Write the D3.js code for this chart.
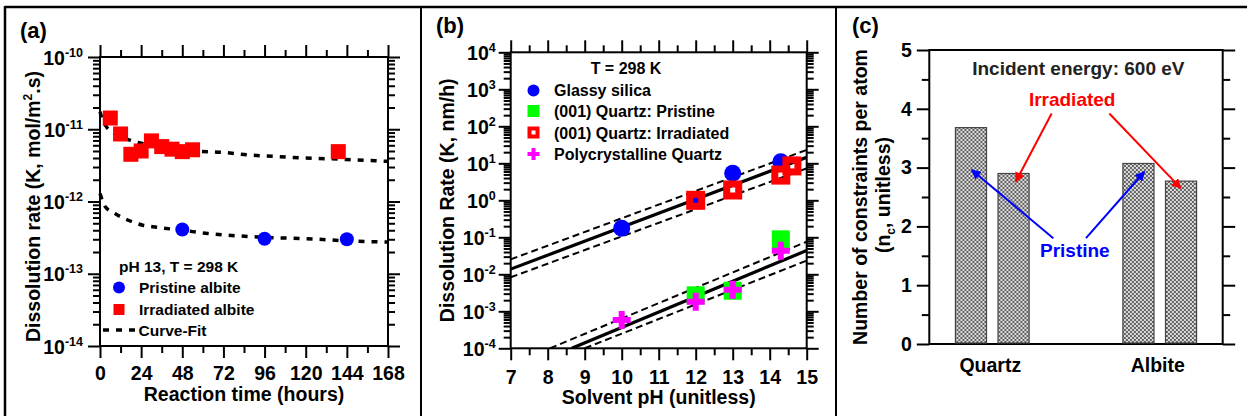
<!DOCTYPE html>
<html><head><meta charset="utf-8">
<script src="https://cdn.jsdelivr.net/npm/d3@7"></script>
<style>
body{margin:0;background:#fff}
svg{display:block}
text{font-family:"Liberation Sans",Arial,sans-serif;font-weight:bold;fill:#000}
</style>
</head><body>
<svg id="fig" width="1247" height="416"></svg>
<script>
// ---------------- DATA ----------------
// Panel (a)
const aIrrTime = [6, 12, 18, 24, 30, 36, 42, 48, 54, 139];
const aIrrRate = [1.43e-11, 8.6e-12, 4.5e-12, 5.0e-12, 6.9e-12, 5.75e-12, 5.3e-12, 4.9e-12, 5.2e-12, 4.9e-12];
const aPriTime = [48, 96, 144];
const aPriRate = [4.1e-13, 3.05e-13, 3.0e-13];
const aFitIrrTime = [0, 1.5, 3, 10, 16.5, 24, 40, 55, 71.5, 87, 103, 118.5, 134, 150, 168];
const aFitIrrRate = [1.75e-11, 1.35e-11, 1.15e-11, 8.3e-12, 7.2e-12, 6.4e-12, 5.6e-12, 5.0e-12, 4.8e-12, 4.4e-12, 4.2e-12, 4.0e-12, 3.9e-12, 3.75e-12, 3.6e-12];
const aFitPriTime = [0, 3, 8.75, 16.5, 25, 33, 48, 63, 80, 95, 111, 127, 144, 168];
const aFitPriRate = [1.29e-12, 8.5e-13, 6.8e-13, 5.5e-13, 4.7e-13, 4.4e-13, 4.0e-13, 3.6e-13, 3.35e-13, 3.2e-13, 3.1e-13, 3.0e-13, 2.85e-13, 2.75e-13];
const aXTicks = [0, 24, 48, 72, 96, 120, 144, 168];
const aYDecades = [-14, -13, -12, -11, -10];

// Panel (b)
const bGlassyPH = [10, 12, 13, 14.3];
const bGlassyK = [0.175, 1.0, 5.4, 11];
const bQPrisPH = [12, 13, 14.3];
const bQPrisK = [0.0027, 0.0036, 0.088];
const bQIrrPH = [12, 13, 14.3, 14.6];
const bQIrrK = [1.0, 1.9, 4.8, 8.5];
const bPolyPH = [10, 12, 13, 14.3];
const bPolyK = [5.8e-4, 0.0018, 0.0038, 0.043];
// fit lines: [startPH, startK, endPH, endK]
const bFitUpperSolid = [7, 0.0138, 15, 14.5];
const bFitUpperHi = [7, 0.0254, 15, 23];
const bFitUpperLo = [7, 0.0083, 15, 7.3];
const bFitLowerSolid = [8.65, 1e-4, 15, 0.044];
const bFitLowerHi = [8.06, 1e-4, 15, 0.076];
const bFitLowerLo = [9.0, 1e-4, 15, 0.0235];
const bXTicks = [7, 8, 9, 10, 11, 12, 13, 14, 15];
const bYDecades = [-4, -3, -2, -1, 0, 1, 2, 3, 4];

// Panel (c)
const cMaterials = ["Quartz", "Albite"];
const cStates = ["Pristine", "Irradiated"];
const cQuartz = [3.68, 2.90];
const cAlbite = [3.07, 2.77];
const cYTicks = [0, 1, 2, 3, 4, 5];

// ---------------- HELPERS ----------------
const svg = d3.select("#fig");
const defs = svg.append("defs");

function styleAxis(sel) {
  sel.select(".domain").remove();
  sel.selectAll(".tick line").attr("stroke", "#000").attr("stroke-width", 2);
}
function blankAxis(g, axisFn, scale, values, size) {
  g.call(axisFn(scale).tickValues(values).tickSize(size).tickFormat(() => ""));
  styleAxis(g);
}
function minorLog(d0, d1) {
  const out = [];
  for (let e = d0; e < d1; e++) for (let m = 2; m <= 9; m++) out.push(m * Math.pow(10, e));
  return out;
}
function powLabels(g, decades, size, sup) {
  g.selectAll(".tick text").each(function(d, i) {
    const t = d3.select(this);
    t.text(null).attr("font-size", size);
    t.append("tspan").text("10");
    t.append("tspan").attr("font-size", sup).attr("dy", -8).text(String(decades[i]));
  });
}

// ---------------- OUTER FRAME ----------------
const frame = svg.append("g").attr("stroke", "#000");
frame.append("line").attr("x1", 5).attr("x2", 1247).attr("y1", 7).attr("y2", 7).attr("stroke-width", 2.5);
frame.append("line").attr("x1", 5).attr("x2", 5).attr("y1", 6).attr("y2", 416).attr("stroke-width", 2.5);
frame.append("line").attr("x1", 421).attr("x2", 421).attr("y1", 7).attr("y2", 416).attr("stroke-width", 2);
frame.append("line").attr("x1", 836).attr("x2", 836).attr("y1", 7).attr("y2", 416).attr("stroke-width", 2);

// ---------------- PANEL (a) ----------------
(function() {
  const L = 100, R = 388, T = 57, B = 346;
  const x = d3.scaleLinear().domain([0, 168]).range([L, R]);
  const y = d3.scaleLog().domain([1e-14, 1e-10]).range([B, T]);
  const g = svg.append("g");
  const minorX = aXTicks.slice(0, -1).map(v => v + 12);
  const majY = aYDecades.map(e => Math.pow(10, e));
  const minY = minorLog(-14, -10);

  const gb = g.append("g").attr("transform", `translate(0,${B})`);
  gb.call(d3.axisBottom(x).tickValues(aXTicks).tickSize(12).tickPadding(8).tickFormat(d3.format("d")));
  styleAxis(gb); gb.selectAll(".tick text").attr("font-size", 19.5).attr("font-family", null);
  blankAxis(g.append("g").attr("transform", `translate(0,${B})`), d3.axisBottom, x, minorX, 7);
  blankAxis(g.append("g").attr("transform", `translate(0,${T})`), d3.axisTop, x, aXTicks, 12);
  blankAxis(g.append("g").attr("transform", `translate(0,${T})`), d3.axisTop, x, minorX, 7);
  const gl = g.append("g").attr("transform", `translate(${L},0)`);
  gl.call(d3.axisLeft(y).tickValues(majY).tickSize(12).tickPadding(5));
  styleAxis(gl); gl.selectAll(".tick text").attr("font-family", null).attr("dy", "0.36em");
  powLabels(gl, aYDecades, 19.5, 12.5);
  blankAxis(g.append("g").attr("transform", `translate(${L},0)`), d3.axisLeft, y, minY, 7);
  blankAxis(g.append("g").attr("transform", `translate(${R},0)`), d3.axisRight, y, majY, 12);
  blankAxis(g.append("g").attr("transform", `translate(${R},0)`), d3.axisRight, y, minY, 7);
  g.append("rect").attr("x", L).attr("y", T).attr("width", R - L).attr("height", B - T)
    .attr("fill", "none").attr("stroke", "#000").attr("stroke-width", 2);

  const line = d3.line().x(d => x(d[0])).y(d => y(d[1])).curve(d3.curveMonotoneX);
  const fitStyle = p => p.attr("fill", "none").attr("stroke", "#000").attr("stroke-width", 3.5).attr("stroke-dasharray", "6,7");
  g.append("path").attr("d", line(d3.zip(aFitIrrTime, aFitIrrRate))).call(fitStyle);
  g.append("path").attr("d", line(d3.zip(aFitPriTime, aFitPriRate))).call(fitStyle);

  g.selectAll(".irr").data(d3.zip(aIrrTime, aIrrRate)).join("rect")
    .attr("x", d => x(d[0]) - 7.5).attr("y", d => y(d[1]) - 7.5).attr("width", 15).attr("height", 15).attr("fill", "#f00");
  g.selectAll(".pri").data(d3.zip(aPriTime, aPriRate)).join("circle")
    .attr("cx", d => x(d[0])).attr("cy", d => y(d[1])).attr("r", 7).attr("fill", "#00f");

  const lg = g.append("g");
  lg.append("text").attr("x", 119).attr("y", 272).attr("font-size", 15.5).text("pH 13, T = 298 K");
  lg.append("circle").attr("cx", 119).attr("cy", 287.5).attr("r", 6).attr("fill", "#00f");
  lg.append("text").attr("x", 139).attr("y", 293).attr("font-size", 15.5).text("Pristine albite");
  lg.append("rect").attr("x", 113.5).attr("y", 304).attr("width", 11).attr("height", 11).attr("fill", "#f00");
  lg.append("text").attr("x", 139).attr("y", 314.5).attr("font-size", 15.5).text("Irradiated albite");
  lg.append("line").attr("x1", 103).attr("x2", 135).attr("y1", 330).attr("y2", 330).call(fitStyle);
  lg.append("text").attr("x", 138.5).attr("y", 335.5).attr("font-size", 15.5).text("Curve-Fit");

  g.append("text").attr("x", (L + R) / 2).attr("y", 401).attr("text-anchor", "middle").attr("font-size", 19.5).text("Reaction time (hours)");
  const yt = g.append("text").attr("transform", `translate(40,${(T + B) / 2 + 5}) rotate(-90)`).attr("text-anchor", "middle").attr("font-size", 19.5);
  yt.append("tspan").text("Dissolution rate (K, mol/m");
  yt.append("tspan").attr("font-size", 12).attr("dy", -8).text("2");
  yt.append("tspan").attr("dy", 8).text(".s)");
  g.append("text").attr("x", 20).attr("y", 38).attr("font-size", 22).text("(a)");
})();

// ---------------- PANEL (b) ----------------
(function() {
  const L = 510.7, R = 806.7, T = 52.3, B = 348.3;
  const x = d3.scaleLinear().domain([7, 15]).range([L, R]);
  const y = d3.scaleLog().domain([1e-4, 1e4]).range([B, T]);
  const g = svg.append("g");
  const minorX = bXTicks.slice(0, -1).map(v => v + 0.5);
  const majY = bYDecades.map(e => Math.pow(10, e));
  const minY = minorLog(-4, 4);

  const gb = g.append("g").attr("transform", `translate(0,${B})`);
  gb.call(d3.axisBottom(x).tickValues(bXTicks).tickSize(12).tickPadding(10).tickFormat(d3.format("d")));
  styleAxis(gb); gb.selectAll(".tick text").attr("font-size", 19.5).attr("font-family", null);
  blankAxis(g.append("g").attr("transform", `translate(0,${B})`), d3.axisBottom, x, minorX, 7);
  blankAxis(g.append("g").attr("transform", `translate(0,${T})`), d3.axisTop, x, bXTicks, 12);
  blankAxis(g.append("g").attr("transform", `translate(0,${T})`), d3.axisTop, x, minorX, 7);
  const gl = g.append("g").attr("transform", `translate(${L},0)`);
  gl.call(d3.axisLeft(y).tickValues(majY).tickSize(12).tickPadding(3));
  styleAxis(gl); gl.selectAll(".tick text").attr("font-family", null).attr("dy", "0.36em");
  powLabels(gl, bYDecades, 19.5, 12.5);
  blankAxis(g.append("g").attr("transform", `translate(${L},0)`), d3.axisLeft, y, minY, 7);
  blankAxis(g.append("g").attr("transform", `translate(${R},0)`), d3.axisRight, y, majY, 12);
  blankAxis(g.append("g").attr("transform", `translate(${R},0)`), d3.axisRight, y, minY, 7);
  g.append("rect").attr("x", L).attr("y", T).attr("width", R - L).attr("height", B - T)
    .attr("fill", "none").attr("stroke", "#000").attr("stroke-width", 2);

  defs.append("clipPath").attr("id", "clipb").append("rect").attr("x", L).attr("y", T).attr("width", R - L).attr("height", B - T);
  const fits = g.append("g").attr("clip-path", "url(#clipb)");
  const seg = (f, dashed) => fits.append("line")
    .attr("x1", x(f[0])).attr("y1", y(f[1])).attr("x2", x(f[2])).attr("y2", y(f[3]))
    .attr("stroke", "#000").attr("stroke-width", dashed ? 2 : 3.2).attr("stroke-dasharray", dashed ? "7,4" : null);
  seg(bFitUpperSolid, false); seg(bFitUpperHi, true); seg(bFitUpperLo, true);
  seg(bFitLowerSolid, false); seg(bFitLowerHi, true); seg(bFitLowerLo, true);

  g.selectAll(".gl").data(d3.zip(bGlassyPH, bGlassyK)).join("circle")
    .attr("cx", d => x(d[0])).attr("cy", d => y(d[1])).attr("r", 8.5).attr("fill", "#00f");
  g.selectAll(".qp").data(d3.zip(bQPrisPH, bQPrisK)).join("rect")
    .attr("x", d => x(d[0]) - 9).attr("y", d => y(d[1]) - 9).attr("width", 18).attr("height", 18).attr("fill", "#0f0");
  g.selectAll(".qi").data(d3.zip(bQIrrPH, bQIrrK)).join("rect")
    .attr("x", d => x(d[0]) - 6).attr("y", d => y(d[1]) - 6).attr("width", 12).attr("height", 12)
    .attr("fill", "none").attr("stroke", "#f00").attr("stroke-width", 7);
  const cross = d3.symbol().type(d3.symbolCross).size(180);
  g.selectAll(".pq").data(d3.zip(bPolyPH, bPolyK)).join("path")
    .attr("transform", d => `translate(${x(d[0])},${y(d[1])})`).attr("d", cross).attr("fill", "#f0f");

  const fs = 16;
  g.append("text").attr("x", 626).attr("y", 74).attr("text-anchor", "middle").attr("font-size", fs).text("T = 298 K");
  g.append("circle").attr("cx", 533.5).attr("cy", 90.5).attr("r", 6).attr("fill", "#00f");
  g.append("text").attr("x", 554).attr("y", 96).attr("font-size", fs).text("Glassy silica");
  g.append("rect").attr("x", 527.5).attr("y", 105).attr("width", 12).attr("height", 12).attr("fill", "#0f0");
  g.append("text").attr("x", 554).attr("y", 117).attr("font-size", fs).text("(001) Quartz: Pristine");
  g.append("rect").attr("x", 529.5).attr("y", 128.5).attr("width", 8).attr("height", 8).attr("fill", "none").attr("stroke", "#f00").attr("stroke-width", 4);
  g.append("text").attr("x", 554).attr("y", 138.5).attr("font-size", fs).text("(001) Quartz: Irradiated");
  g.append("path").attr("transform", "translate(533.5,154)").attr("d", d3.symbol().type(d3.symbolCross).size(80)).attr("fill", "#f0f");
  g.append("text").attr("x", 554).attr("y", 160).attr("font-size", fs).text("Polycrystalline Quartz");

  g.append("text").attr("x", (L + R) / 2).attr("y", 404).attr("text-anchor", "middle").attr("font-size", 19.5).text("Solvent pH (unitless)");
  g.append("text").attr("transform", `translate(454,${(T + B) / 2}) rotate(-90)`).attr("text-anchor", "middle").attr("font-size", 19.5).text("Dissolution Rate (K, nm/h)");
  g.append("text").attr("x", 436).attr("y", 33).attr("font-size", 22).text("(b)");
})();

// ---------------- PANEL (c) ----------------
(function() {
  const L = 929.3, R = 1222.7, T = 50, B = 344;
  const x0 = d3.scaleBand().domain(cMaterials).range([L, R]).paddingInner(0.56).paddingOuter(0.156);
  const x1 = d3.scaleBand().domain(cStates).range([0, x0.bandwidth()]).paddingInner(0.27);
  const y = d3.scaleLinear().domain([0, 5]).range([B, T]);
  const pos = d3.scaleLinear().domain([0, 1]).range([L, R]);
  const g = svg.append("g");

  const pat = defs.append("pattern").attr("id", "hatch").attr("patternUnits", "userSpaceOnUse").attr("width", 4).attr("height", 4);
  pat.append("rect").attr("width", 4).attr("height", 4).attr("fill", "#dcdcdc");
  pat.append("path").attr("d", "M0,0L4,4M4,0L0,4").attr("stroke", "#555").attr("stroke-width", 0.9);

  const minorY = [0.5, 1.5, 2.5, 3.5, 4.5];
  const gl = g.append("g").attr("transform", `translate(${L},0)`);
  gl.call(d3.axisLeft(y).tickValues(cYTicks).tickSize(12.5).tickPadding(5).tickFormat(d3.format("d")));
  styleAxis(gl); gl.selectAll(".tick text").attr("font-size", 19.5).attr("font-family", null);
  blankAxis(g.append("g").attr("transform", `translate(${L},0)`), d3.axisLeft, y, minorY, 7.5);
  blankAxis(g.append("g").attr("transform", `translate(${R},0)`), d3.axisRight, y, cYTicks, 12.5);
  blankAxis(g.append("g").attr("transform", `translate(${R},0)`), d3.axisRight, y, minorY, 7.5);
  g.append("rect").attr("x", L).attr("y", T).attr("width", R - L).attr("height", B - T)
    .attr("fill", "none").attr("stroke", "#000").attr("stroke-width", 2);

  const vals = { Quartz: cQuartz, Albite: cAlbite };
  const groups = g.selectAll(".grp").data(cMaterials).join("g").attr("transform", d => `translate(${x0(d)},0)`);
  groups.selectAll("rect").data(m => cStates.map((s, i) => ({ s, v: vals[m][i] }))).join("rect")
    .attr("x", d => x1(d.s)).attr("width", x1.bandwidth())
    .attr("y", d => y(d.v)).attr("height", d => B - 1 - y(d.v))
    .attr("fill", "url(#hatch)").attr("stroke", "#444").attr("stroke-width", 1.2);

  g.selectAll(".cat").data(cMaterials).join("text")
    .attr("x", d => x0(d) + x0.bandwidth() / 2 - 2).attr("y", 372).attr("text-anchor", "middle").attr("font-size", 19.5).text(d => d);

  ["red", "blue"].forEach(c => {
    defs.append("marker").attr("id", "ah-" + c).attr("viewBox", "0 0 10 10").attr("refX", 9).attr("refY", 5)
      .attr("markerWidth", 5).attr("markerHeight", 5).attr("markerUnits", "strokeWidth").attr("orient", "auto")
      .append("path").attr("d", "M0,0L10,5L0,10z").attr("fill", c === "red" ? "#f00" : "#00f");
  });
  const arrows = [
    { c: "red", from: [0.417, 3.92], to: [0.2945, 2.76] },
    { c: "red", from: [0.6135, 3.92], to: [0.857, 2.65] },
    { c: "blue", from: [0.4226, 1.80], to: [0.1445, 2.96] },
    { c: "blue", from: [0.534, 1.80], to: [0.733, 2.93] }
  ];
  arrows.forEach(a => g.append("line")
    .attr("x1", pos(a.from[0])).attr("y1", y(a.from[1])).attr("x2", pos(a.to[0])).attr("y2", y(a.to[1]))
    .attr("stroke", a.c === "red" ? "#f00" : "#00f").attr("stroke-width", 2).attr("marker-end", `url(#ah-${a.c})`));

  g.append("text").attr("x", pos(0.508)).attr("y", y(4.57)).attr("text-anchor", "middle").attr("font-size", 19).style("fill", "#222").text("Incident energy: 600 eV");
  g.append("text").attr("x", pos(0.487)).attr("y", y(4.04)).attr("text-anchor", "middle").attr("font-size", 19).style("fill", "#f00").text("Irradiated");
  g.append("text").attr("x", pos(0.496)).attr("y", y(1.485)).attr("text-anchor", "middle").attr("font-size", 19).style("fill", "#00f").text("Pristine");

  g.append("text").attr("transform", `translate(867,${(T + B) / 2}) rotate(-90)`).attr("text-anchor", "middle").attr("font-size", 19.5).text("Number of constraints per atom");
  const l2 = g.append("text").attr("transform", `translate(890,${(T + B) / 2 - 2}) rotate(-90)`).attr("text-anchor", "middle").attr("font-size", 19.5);
  l2.append("tspan").text("(n");
  l2.append("tspan").attr("font-size", 12).attr("dy", 5).text("c");
  l2.append("tspan").attr("dy", -5).text(", unitless)");
  g.append("text").attr("x", 852).attr("y", 33).attr("font-size", 22).text("(c)");
})();
</script>
</body></html>
